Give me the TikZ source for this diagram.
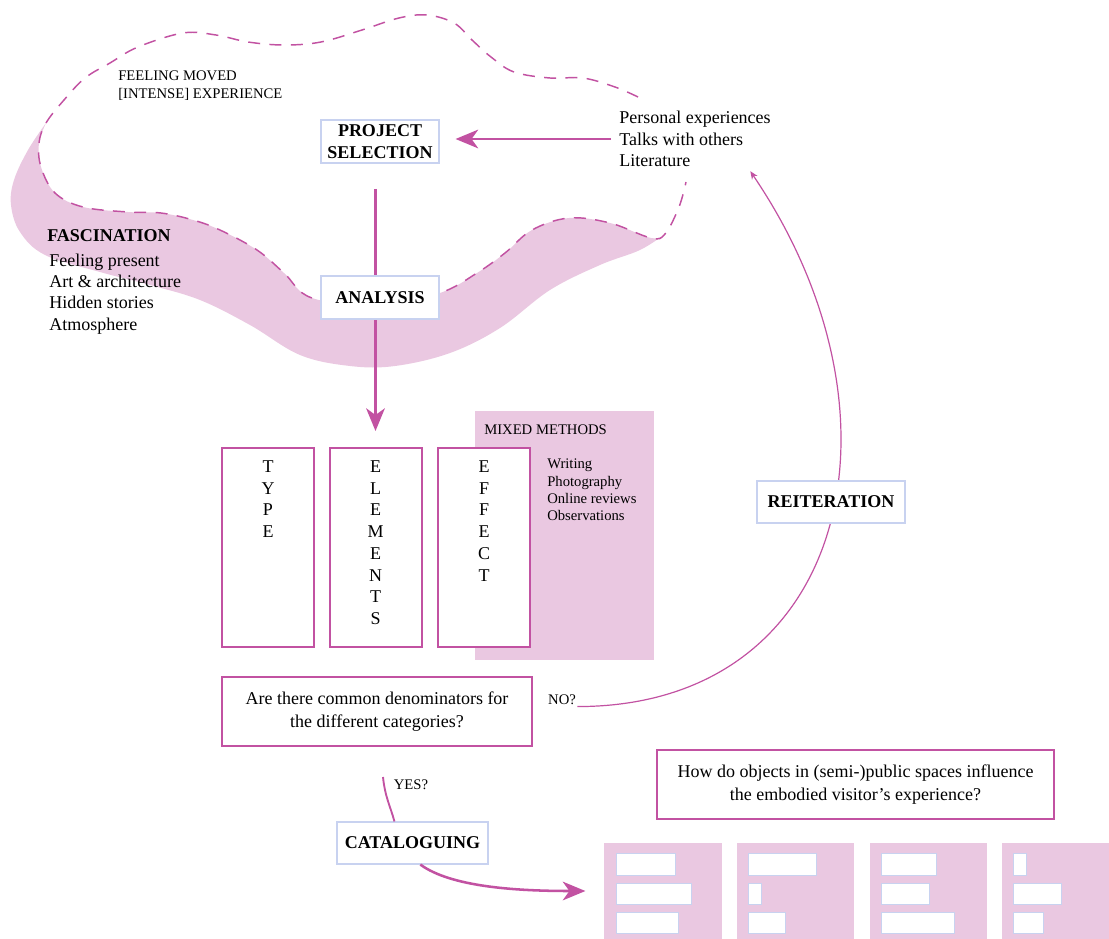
\documentclass[tikz,border=0pt]{standalone}
\usepackage{fontspec}
\setmainfont{Liberation Serif}
\usetikzlibrary{arrows.meta,positioning,calc}

\definecolor{mag}{RGB}{194,82,162}
\definecolor{pinkish}{RGB}{234,200,225}
\definecolor{lav}{RGB}{200,210,240}

\begin{document}
\begin{tikzpicture}[x=0.75pt, y=-0.75pt,
  font=\fontsize{13.5}{16}\selectfont,
  stage/.style={draw=lav, line width=0.8pt, fill=white, align=center, inner sep=0pt,
                font=\fontsize{13.5}{16.5}\selectfont\bfseries},
  qbox/.style={draw=mag, line width=1.5pt, fill=white, align=center, inner sep=0pt,
               font=\fontsize{13.5}{17.25}\selectfont},
  catbox/.style={draw=mag, line width=1.5pt, fill=white, minimum width=69pt,
                 minimum height=149.25pt, inner sep=0pt},
  letters/.style={anchor=north, align=center, inner sep=0pt, font=\fontsize{13.5}{16.3}\selectfont},
  small/.style={font=\fontsize{11}{13}\selectfont, inner sep=0pt},
  list/.style={anchor=west, align=left, inner sep=0pt, font=\fontsize{13.5}{15.9}\selectfont},
  edge/.style={draw=mag, line width=1.9pt, -{Stealth[length=17pt, width=14pt, inset=5pt]}},
  thin/.style={draw=mag, line width=0.9pt},
  blob/.style={draw=mag, line width=1.1pt, dash pattern=on 9pt off 7pt},
  colbox/.style={fill=pinkish, minimum width=88pt, minimum height=72pt, inner sep=0pt},
  slot/.style={draw=lav, line width=0.6pt, fill=white}
]
\useasboundingbox (0,0) rectangle (1109,938);

% fascination band and the dashed cloud
\fill[pinkish] plot[smooth, tension=0.6] coordinates {(46,123) (28,150) (14,180) (11,205) (20,232) (45,255) (100,272) (150,285) (200,300) (250,325) (300,355) (350,366) (395,366) (450,353) (500,328) (550,290) (600,265) (640,250) (665,234)}
  -- plot[smooth, tension=0.6] coordinates {(665,234) (651,238) (610,223) (569,218) (532,230) (505,253) (477,273) (440,293) (380,306) (312,298) (284,273) (257,250) (220,230) (193,220) (161,213) (128,212) (83,207) (55,193) (41,167) (39,143) (46,123)} -- cycle;
\draw[blob] plot[smooth, tension=0.6] coordinates {(638,97) (615,87) (583,78) (550,78) (514,72) (491,57) (472,40) (454,23) (427,15) (399,18) (362,30) (321,42) (284,45) (248,42) (216,35) (183,33) (138,47) (110,63) (85,78) (64,100) (46,123) (39,143) (41,167) (55,193) (83,207) (128,212) (161,213) (193,220) (220,230) (257,250) (284,273) (312,298) (380,306) (440,293) (477,273) (505,253) (532,230) (569,218) (610,223) (651,238) (665,234) (679,207) (686,182)};

\node[small, anchor=west, align=left, font=\fontsize{11}{13.5}\selectfont] (moved) at (118,86) {FEELING MOVED\\{[}INTENSE{]} EXPERIENCE};
\node[anchor=west, inner sep=0pt, font=\fontsize{13.5}{16}\selectfont\bfseries] (fasc) at (47,236) {FASCINATION};
\node[list, font=\fontsize{13.5}{16}\selectfont] (fasclist) at (49,294) {Feeling present\\Art \& architecture\\Hidden stories\\Atmosphere};

\node[stage, minimum width=88.5pt, minimum height=32.25pt] (psel) at (380,141.5) {PROJECT\\SELECTION};
\node[list] (src) at (619,139) {Personal experiences\\Talks with others\\Literature};
\draw[edge, shorten <=6pt, shorten >=12pt] (src.west) -- (src.west -| psel.east);

% mixed methods
\node[fill=pinkish, minimum width=134.25pt, minimum height=186.75pt, inner sep=0pt] (mixed) at (564.5,535.5) {};
\node[small, anchor=west] (mmtitle) at (484,430) {MIXED METHODS};
\node[small, anchor=west, align=left] (methods) at (547,490) {Writing\\Photography\\Online reviews\\Observations};

\node[catbox] (type) at (268,547.5) {};
\node[catbox] (elem) at (375.5,547.5) {};
\node[catbox] (effect) at (484,547.5) {};
\node[letters] (typetxt) at ([yshift=-10pt]type.north) {T\\Y\\P\\E};
\node[letters] (elemtxt) at ([yshift=-10pt]elem.north) {E\\L\\E\\M\\E\\N\\T\\S};
\node[letters] (effecttxt) at ([yshift=-10pt]effect.north) {E\\F\\F\\E\\C\\T};

\draw[edge, shorten <=19pt, shorten >=12pt] (elem.north |- psel.south) -- (elem.north);
\node[stage, minimum width=88.5pt, minimum height=32.25pt] (analysis) at (380,297.5) {ANALYSIS};

% loop back
\node[qbox, minimum width=232.5pt, minimum height=51.75pt] (q) at (377,711.5) {Are there common denominators for\\the different categories?};
\node[small, inner sep=1pt] (no) at (562,700) {NO?};
\draw[thin, -{Stealth[length=6pt, width=5pt]}, shorten >=4pt] (no.south east) .. controls +(270,0) and +(170,250) .. (src.-28);
\node[stage, minimum width=111pt, minimum height=31.5pt] (reiter) at (831,502) {REITERATION};

\node[small] (yes) at (411,785) {YES?};
\node[stage, minimum width=113.25pt, minimum height=31.5pt] (cat) at (412.5,843) {CATALOGUING};
\coordinate (yestop) at (383,777);
\draw[thin, line width=1.4pt] (yestop) .. controls +(2,20) and +(-4,-15) .. (cat.130);

\node[qbox, minimum width=297.75pt, minimum height=51.75pt] (rq) at (855.5,784.5) {How do objects in (semi-)public spaces influence\\the embodied visitor's experience?};

\foreach \cx [count=\i] in {663,795.5,928.5,1060.5}
  \node[colbox] (col\i) at (\cx,891) {};
\foreach \x/\wa/\wb/\wc in {616/59/75/62, 748/68/13/37, 881/55/48/73, 1013/13/48/30} {
  \draw[slot] (\x,853) rectangle ++(\wa,22);
  \draw[slot] (\x,883) rectangle ++(\wb,21);
  \draw[slot] (\x,912) rectangle ++(\wc,21);
}
\draw[edge, shorten >=14pt] (cat.-70) .. controls +(30,22) and +(-90,0) .. (col1.west);
\end{tikzpicture}
\end{document}
